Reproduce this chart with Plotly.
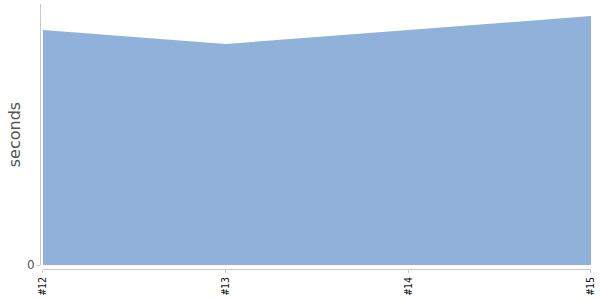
import plotly.graph_objects as go

builds = ["#12", "#13", "#14", "#15"]
seconds = [9.0, 8.47, 9.0, 9.54]

xs = list(range(len(builds)))

fig = go.Figure()
fig.add_trace(go.Scatter(
    x=xs, y=seconds, mode="none", fill="tozeroy",
    fillcolor="#8fb1da", hoverinfo="skip", showlegend=False,
))

fig.update_layout(
    width=600, height=300,
    margin=dict(l=40, r=9, t=4, b=31),
    paper_bgcolor="white", plot_bgcolor="white",
    xaxis=dict(
        domain=[0.0054, 1], anchor="free", position=0,
        range=[0, 3], tickvals=xs, ticktext=builds, tickangle=-90,
        showline=True, linecolor="#c8c8c8", linewidth=1,
        ticks="outside", ticklen=3, tickcolor="#c8c8c8",
        showgrid=False, zeroline=False,
        tickfont=dict(family="DejaVu Sans Mono", size=10, color="#111"),
    ),
    yaxis=dict(
        domain=[0.015, 1], anchor="free", position=0,
        range=[0, 10], tickvals=[0], ticktext=["0"],
        showline=True, linecolor="#c8c8c8", linewidth=1,
        ticks="outside", ticklen=3, tickcolor="#c8c8c8",
        showgrid=False, zeroline=False,
        tickfont=dict(family="DejaVu Sans", size=12, color="#555"),
        title=dict(text="seconds", standoff=1,
                   font=dict(family="DejaVu Sans", size=16, color="#555")),
    ),
)

fig.write_html("out.html")
